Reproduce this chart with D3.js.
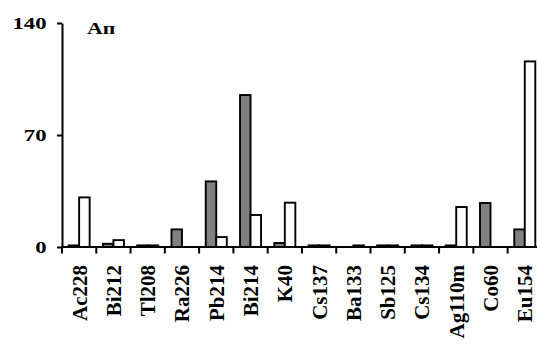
<!DOCTYPE html>
<html>
<head>
<meta charset="utf-8">
<script src="https://cdn.jsdelivr.net/npm/d3@7"></script>
<style>
  html, body { margin: 0; padding: 0; background: #fff; }
  svg { display: block; }
  text { font-family: "Liberation Serif", "Times New Roman", serif; font-weight: bold; fill: #000; }
</style>
</head>
<body>
<svg id="chart" width="537" height="344"></svg>
<script>
// Nuclides along the x axis
const nuclides = ["Ac228", "Bi212", "Tl208", "Ra226", "Pb214", "Bi214", "K40",
                  "Cs137", "Ba133", "Sb125", "Cs134", "Ag110m", "Co60", "Eu154"];
// Grey (filled) series
const greyValues  = [1, 2, 1, 11, 41, 95, 2.5, 1, 0, 1, 1, 1, 27.5, 11];
// White (open) series
const whiteValues = [31, 4.3, 1, 0, 6.2, 20, 27.7, 1, 1, 1, 1, 25, 0, 116];
// Y axis ticks
const yTicks = [0, 70, 140];
const panelLabel = "Ап";

const svg = d3.select("#chart");
const plotLeft = 62, plotTop = 23, plotBottom = 247;
const step = 34.28;

const x = d3.scaleBand()
  .domain(nuclides)
  .range([plotLeft, plotLeft + step * nuclides.length])
  .paddingInner(0).paddingOuter(0);

const sub = d3.scaleBand()
  .domain(["grey", "white"])
  .range([0, x.bandwidth()])
  .paddingInner(0).paddingOuter(0.63);

const y = d3.scaleLinear().domain([0, 140]).range([plotBottom, plotTop]);

// Bars
const rows = nuclides.map((n, i) => ({ n, grey: greyValues[i], white: whiteValues[i] }));
const groups = svg.append("g").selectAll("g").data(rows).join("g")
  .attr("transform", d => `translate(${x(d.n)},0)`);

groups.selectAll("rect")
  .data(d => [{ k: "grey", v: d.grey }, { k: "white", v: d.white }].filter(e => e.v > 0))
  .join("rect")
  .attr("x", e => sub(e.k))
  .attr("width", sub.bandwidth())
  .attr("y", e => y(e.v))
  .attr("height", e => y(0) - y(e.v))
  .attr("fill", e => e.k === "grey" ? "#808080" : "#ffffff")
  .attr("stroke", "#000")
  .attr("stroke-width", 1.9);

// Y axis
const yAxis = svg.append("g")
  .attr("transform", `translate(${plotLeft},0)`)
  .call(d3.axisLeft(y).tickValues(yTicks).tickSize(5).tickSizeOuter(0));
yAxis.select(".domain").attr("stroke", "#000").attr("stroke-width", 2);
yAxis.selectAll(".tick line").attr("stroke", "#000").attr("stroke-width", 2);
yAxis.selectAll(".tick text")
  .attr("x", 0)
  .attr("dy", "0.33em")
  .attr("transform", "translate(-15.5,0) scale(1.3,1)")
  .style("font-size", "17.5px")
  .style("font-family", "'Liberation Serif', 'Times New Roman', serif")
  .style("font-weight", "bold");

// X axis line and boundary ticks
const xAxis = svg.append("g");
xAxis.append("line")
  .attr("x1", plotLeft - 1).attr("x2", 537)
  .attr("y1", y(0)).attr("y2", y(0))
  .attr("stroke", "#000").attr("stroke-width", 2);
const bounds = nuclides.map(n => x(n));
xAxis.selectAll("line.tick").data(bounds).join("line")
  .attr("class", "tick")
  .attr("x1", d => d).attr("x2", d => d)
  .attr("y1", y(0)).attr("y2", y(0) + 6.5)
  .attr("stroke", "#000").attr("stroke-width", 2);

// Rotated category labels
svg.append("g").selectAll("text").data(nuclides).join("text")
  .attr("transform", n => `translate(${x(n) + x.bandwidth() / 2 + 0.5},265) rotate(-90)`)
  .attr("text-anchor", "end")
  .attr("dy", "0.33em")
  .style("font-size", "21px")
  .text(n => n);

// Panel label
svg.append("text")
  .attr("transform", "translate(87,34) scale(1.25,1)")
  .style("font-size", "17.5px")
  .text(panelLabel);
</script>
</body>
</html>
